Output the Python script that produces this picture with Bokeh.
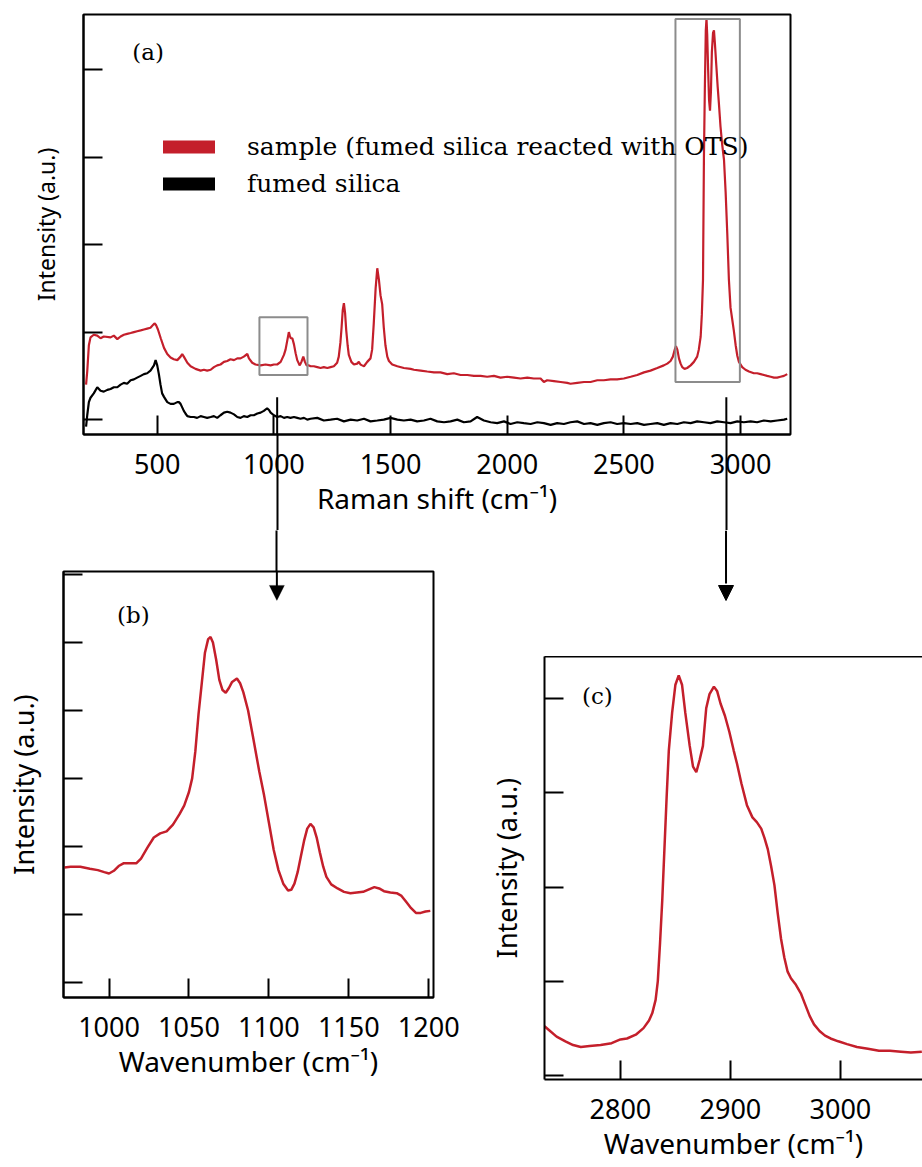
from bokeh.plotting import figure
from bokeh.models import (Range1d, FixedTicker, LinearAxis, Legend, LegendItem,
                          Label, BoxAnnotation, PolyAnnotation)
from bokeh.layouts import column, row
from bokeh.embed import file_html
from bokeh.resources import INLINE

RED = "#c41f2b"
BLACK = "#000000"
GREY = "#8c8c8c"
SANS = "Noto Sans"
SERIF = "DejaVu Serif"
NAN = float("nan")

# ---------------- panel (a): full Raman spectra ----------------
sample_x = [
    195, 200, 207, 214, 228, 243, 257, 271, 300, 314,
    329, 343, 357, 371, 386, 400, 414, 429, 443, 457,
    471, 488, 495, 503, 515, 529, 543, 557, 571, 586,
    600, 607, 614, 629, 643, 664, 686, 700, 714, 729,
    743, 757, 771, 786, 800, 814, 829, 843, 857, 871,
    886, 893, 907, 921, 943, 964, 986, 1000, 1014, 1029,
    1043, 1050, 1057, 1064, 1068, 1072, 1079, 1086, 1093, 1100,
    1107, 1111, 1118, 1126, 1133, 1140, 1150, 1157, 1171, 1186,
    1200, 1214, 1229, 1243, 1257, 1271, 1278, 1285, 1290, 1295,
    1300, 1305, 1310, 1316, 1321, 1332, 1343, 1357, 1364, 1371,
    1378, 1386, 1400, 1407, 1414, 1421, 1428, 1436, 1443, 1450,
    1457, 1464, 1471, 1478, 1486, 1493, 1507, 1529, 1557, 1586,
    1600, 1629, 1657, 1686, 1714, 1743, 1771, 1800, 1829, 1857,
    1886, 1914, 1943, 1971, 2000, 2029, 2057, 2086, 2114, 2143,
    2157, 2171, 2200, 2229, 2257, 2271, 2300, 2329, 2357, 2386,
    2414, 2443, 2471, 2500, 2529, 2557, 2586, 2614, 2643, 2671,
    2686, 2700, 2710, 2718, 2723, 2729, 2736, 2743, 2750, 2760,
    2771, 2786, 2800, 2814, 2821, 2829, 2834, 2839, 2843, 2847,
    2851, 2854, 2857, 2861, 2865, 2869, 2873, 2877, 2882, 2886,
    2890, 2896, 2902, 2907, 2914, 2921, 2929, 2936, 2943, 2950,
    2957, 2964, 2971, 2979, 2986, 2993, 3007, 3021, 3036, 3057,
    3071, 3086, 3100, 3114, 3129, 3143, 3157, 3171, 3186, 3200,
]
sample_y = [
    0.40, 0.55, 0.85, 0.94, 0.97, 0.96, 0.93, 0.95, 0.94, 0.96,
    0.92, 0.95, 0.97, 0.98, 0.99, 1.00, 1.01, 1.02, 1.03, 1.04,
    1.05, 1.10, 1.08, 1.03, 0.93, 0.82, 0.75, 0.71, 0.69, 0.68,
    0.72, 0.75, 0.72, 0.65, 0.61, 0.58, 0.56, 0.57, 0.56, 0.57,
    0.60, 0.62, 0.63, 0.66, 0.67, 0.69, 0.68, 0.70, 0.70, 0.72,
    0.75, 0.70, 0.65, 0.63, 0.62, 0.63, 0.62, 0.63, 0.63, 0.66,
    0.74, 0.80, 0.90, 1.00, 0.96, 0.93, 0.93, 0.86, 0.76, 0.68,
    0.64, 0.62, 0.66, 0.72, 0.66, 0.62, 0.62, 0.61, 0.61, 0.60,
    0.59, 0.60, 0.59, 0.60, 0.61, 0.65, 0.72, 0.88, 1.05, 1.25,
    1.33, 1.22, 1.02, 0.85, 0.74, 0.66, 0.63, 0.64, 0.66, 0.63,
    0.62, 0.61, 0.66, 0.68, 0.70, 0.80, 1.10, 1.50, 1.73, 1.60,
    1.42, 1.32, 1.05, 0.85, 0.72, 0.67, 0.63, 0.61, 0.59, 0.58,
    0.57, 0.56, 0.55, 0.54, 0.54, 0.52, 0.53, 0.51, 0.51, 0.50,
    0.50, 0.49, 0.50, 0.48, 0.49, 0.48, 0.47, 0.48, 0.47, 0.47,
    0.43, 0.45, 0.44, 0.43, 0.42, 0.41, 0.42, 0.43, 0.43, 0.45,
    0.45, 0.46, 0.46, 0.47, 0.49, 0.51, 0.54, 0.56, 0.59, 0.62,
    0.64, 0.67, 0.72, 0.80, 0.84, 0.80, 0.70, 0.64, 0.60, 0.58,
    0.59, 0.62, 0.66, 0.72, 0.80, 0.95, 1.20, 1.60, 3.00, 3.80,
    4.45, 4.58, 4.40, 4.00, 3.65, 3.53, 3.75, 4.20, 4.42, 4.45,
    4.30, 4.05, 3.80, 3.62, 3.35, 3.15, 2.97, 2.60, 2.13, 1.60,
    1.28, 1.15, 1.02, 0.85, 0.73, 0.66, 0.60, 0.57, 0.55, 0.53,
    0.53, 0.52, 0.51, 0.50, 0.49, 0.48, 0.48, 0.49, 0.50, 0.52,
]
silica_x = [
    195, 200, 207, 214, 228, 243, 257, 271, 286, 300,
    314, 329, 343, 357, 371, 386, 400, 414, 429, 443,
    457, 471, 486, 493, 500, 507, 514, 521, 529, 543,
    557, 571, 586, 593, 600, 607, 614, 621, 629, 643,
    657, 671, 686, 700, 714, 729, 743, 757, 771, 786,
    800, 814, 829, 843, 857, 871, 886, 900, 914, 929,
    943, 957, 971, 979, 986, 1000, 1014, 1029, 1043, 1057,
    1071, 1086, 1100, 1114, 1129, 1143,
    1157, 1186, 1214, 1243, 1271, 1300, 1329, 1357, 1386, 1414,
    1443, 1471, 1500, 1529, 1557, 1586, 1614, 1643, 1671, 1700,
    1729, 1757, 1786, 1814, 1843, 1871, 1900, 1929, 1957, 1986,
    2014, 2043, 2071, 2100, 2129, 2157, 2186, 2214, 2243, 2271,
    2300, 2329, 2357, 2386, 2414, 2443, 2471, 2500, 2529, 2557,
    2586, 2614, 2643, 2671, 2700, 2729, 2757, 2786, 2814, 2843,
    2871, 2900, 2929, 2957, 2986, 3014, 3043, 3071, 3100, 3129,
    3157, 3186, 3200,
]
silica_y = [
    -0.08, 0.05, 0.20, 0.25, 0.30, 0.37, 0.33, 0.32, 0.34, 0.35,
    0.37, 0.37, 0.40, 0.42, 0.41, 0.45, 0.46, 0.48, 0.50, 0.52,
    0.53, 0.56, 0.62, 0.68, 0.62, 0.52, 0.40, 0.30, 0.26, 0.20,
    0.18, 0.18, 0.20, 0.20, 0.18, 0.14, 0.10, 0.07, 0.04, 0.03,
    0.03, 0.02, 0.04, 0.03, 0.02, 0.03, 0.04, 0.02, 0.05, 0.08,
    0.09, 0.08, 0.06, 0.03, 0.02, 0.04, 0.03, 0.05, 0.05, 0.07,
    0.08, 0.10, 0.13, 0.11, 0.08, 0.05, 0.03, 0.04, 0.02, 0.03,
    0.02, 0.03, 0.02, 0.01, 0.02, 0.00,
    0.01, 0.02, -0.01, 0.00, 0.01, -0.02, 0.00, -0.01, 0.01, -0.02,
    -0.01, 0.00, 0.02, 0.00, -0.01, 0.00, -0.02, -0.01, 0.01, -0.02,
    -0.03, -0.02, 0.00, -0.03, -0.02, 0.03, -0.01, -0.03, -0.04, -0.02,
    -0.05, -0.03, -0.04, -0.05, -0.03, -0.04, -0.06, -0.04, -0.05, -0.03,
    -0.02, -0.05, -0.04, -0.06, -0.04, -0.03, -0.05, -0.04, -0.05, -0.04,
    -0.06, -0.05, -0.04, -0.06, -0.04, -0.05, -0.03, -0.04, -0.02, -0.03,
    -0.04, -0.02, -0.03, -0.04, -0.02, -0.03, -0.02, -0.03, -0.01, -0.02,
    -0.01, 0.00, 0.01,
]
assert len(sample_x) == len(sample_y)
assert len(silica_x) == len(silica_y)

a_xticks = [500, 1000, 1500, 2000, 2500, 3000]
a_yticks = [0, 1, 2, 3, 4]
# zoom boxes drawn on (a): [left, right, bottom, top]
box_b = [938, 1144, 0.51, 1.17]
box_c = [2721, 2997, 0.43, 4.58]

# ---------------- panel (b): 970-1200 cm-1 ----------------
b_x = [972, 976, 982, 988, 993, 997, 1000, 1003, 1006, 1009,
       1013, 1017, 1020, 1024, 1028, 1032, 1036, 1040, 1044, 1047,
       1050, 1052, 1054, 1056, 1058, 1060, 1062, 1063.5, 1065, 1067,
       1069, 1071, 1073, 1075, 1077, 1080, 1082, 1084, 1087, 1090,
       1094, 1097, 1100, 1103, 1106, 1109, 1112, 1114, 1116, 1118,
       1120, 1122, 1124, 1126, 1128, 1130, 1132, 1134, 1136, 1139,
       1143, 1147, 1151, 1155, 1159, 1163, 1166, 1169, 1172, 1176,
       1180, 1183, 1186, 1189, 1192, 1195, 1198, 1201]
b_y = [1.69, 1.70, 1.70, 1.67, 1.65, 1.62, 1.60, 1.64, 1.71, 1.75,
       1.75, 1.75, 1.82, 1.98, 2.13, 2.19, 2.22, 2.32, 2.47, 2.60,
       2.80, 3.00, 3.40, 3.95, 4.40, 4.85, 5.05, 5.08, 5.00, 4.75,
       4.45, 4.30, 4.26, 4.33, 4.42, 4.47, 4.40, 4.27, 4.00, 3.62,
       3.10, 2.75, 2.35, 1.95, 1.65, 1.45, 1.35, 1.36, 1.45, 1.62,
       1.85, 2.08, 2.26, 2.33, 2.28, 2.12, 1.90, 1.70, 1.55, 1.44,
       1.38, 1.33, 1.31, 1.32, 1.33, 1.37, 1.40, 1.38, 1.34, 1.32,
       1.31, 1.27, 1.18, 1.09, 1.02, 1.02, 1.04, 1.05]
assert len(b_x) == len(b_y)
b_xticks = [1000, 1050, 1100, 1150, 1200]
b_yticks = [0, 1, 2, 3, 4, 5, 6]

# ---------------- panel (c): 2730-3075 cm-1 ----------------
c_x = [2731, 2735, 2742, 2750, 2757, 2764, 2772, 2782, 2792, 2800,
       2806, 2814, 2821, 2826, 2829, 2832, 2834, 2836, 2838, 2840,
       2842, 2844, 2847, 2850, 2853, 2856, 2859, 2863, 2866, 2869,
       2872, 2875, 2878, 2881, 2885, 2888, 2891, 2895, 2899, 2903,
       2906, 2910, 2915, 2920, 2924, 2928, 2931, 2934, 2937, 2940,
       2943, 2946, 2949, 2952, 2955, 2959, 2964, 2968, 2972, 2976,
       2981, 2986, 2991, 2998, 3006, 3015, 3025, 3035, 3045, 3055,
       3064, 3074]
c_y = [0.52, 0.48, 0.41, 0.36, 0.32, 0.30, 0.31, 0.32, 0.34, 0.38,
       0.39, 0.43, 0.50, 0.58, 0.66, 0.80, 1.00, 1.40, 1.85, 2.40,
       2.95, 3.45, 3.85, 4.15, 4.25, 4.15, 3.85, 3.50, 3.28, 3.22,
       3.35, 3.50, 3.90, 4.05, 4.13, 4.08, 3.95, 3.82, 3.65, 3.45,
       3.31, 3.10, 2.87, 2.74, 2.69, 2.62, 2.52, 2.40, 2.22, 2.02,
       1.72, 1.45, 1.25, 1.10, 1.03, 0.97, 0.87, 0.75, 0.63, 0.54,
       0.47, 0.42, 0.39, 0.36, 0.33, 0.30, 0.28, 0.26, 0.26, 0.25,
       0.24, 0.25]
assert len(c_x) == len(c_y)
c_xticks = [2800, 2900, 3000]
c_yticks = [0, 1, 2, 3, 4]

# arrows linking (a) to (b) and (c)
arrow_a_x = [1014, 2939]          # positions on (a)
arrow_a_start = 0.255             # where the shafts leave (a)
arrow_b = (1105, 5.62)            # (x, tip) on (b)
arrow_c = (2896, 56, 71)          # (x, tip, head base) in px above frame (c)


def style_axes(xa, ya, xticks, yticks, xlabel, ylabel, ylabel_size, ylabel_standoff):
    xa.ticker = FixedTicker(ticks=xticks)
    ya.ticker = FixedTicker(ticks=yticks)
    for ax in (xa, ya):
        ax.axis_line_color = "black"
        ax.axis_line_width = 2
        ax.major_tick_line_color = "black"
        ax.major_tick_line_width = 2
        ax.major_tick_in = 19
        ax.major_tick_out = 0
        ax.minor_tick_line_color = None
        ax.axis_label_text_font = SANS
        ax.axis_label_text_font_style = "normal"
        ax.axis_label_text_color = "black"
        ax.major_label_text_font = SANS
        ax.major_label_text_color = "black"
    xa.axis_label = xlabel
    xa.axis_label_text_font_size = "28px"
    xa.major_label_text_font_size = "27px"
    xa.major_label_standoff = 19
    xa.axis_label_standoff = 2
    ya.axis_label = ylabel
    ya.axis_label_text_font_size = ylabel_size
    # the reference shows no numbers on the intensity axes
    ya.major_label_text_font_size = "0px"
    ya.major_label_text_color = None
    ya.major_label_standoff = 0
    ya.axis_label_standoff = ylabel_standoff


def plain(p):
    p.grid.visible = False
    p.background_fill_color = "white"
    p.border_fill_color = "white"


def shaft_axis(ticks, reach):
    # a label-less axis whose only job is to draw the arrow shafts across the border
    return LinearAxis(ticker=FixedTicker(ticks=ticks), axis_line_color=None,
                      major_tick_in=-reach, major_tick_out=0,
                      major_tick_line_color="black", major_tick_line_width=2,
                      minor_tick_line_color=None, major_label_standoff=0,
                      major_label_text_font_size="0px", major_label_text_color=None)


def shaft_box(x, y_top, y_bottom):
    return BoxAnnotation(left=x, right=x, top=y_top, bottom=y_bottom,
                         fill_alpha=0, line_color="black", line_width=2, line_alpha=1)


# ---------- figure (a)
a_xr, a_yr = (184, 3214), (-0.17, 4.63)
pa = figure(width=922, height=530, x_range=Range1d(*a_xr), y_range=Range1d(*a_yr),
            output_backend="svg", toolbar_location=None, x_axis_location=None,
            min_border_left=83, min_border_right=132, min_border_top=14, min_border_bottom=96)
plain(pa)
pa.add_layout(shaft_axis(arrow_a_x, 96), "below")
xa_a = LinearAxis()
pa.add_layout(xa_a, "below")
style_axes(xa_a, pa.yaxis[0], a_xticks, a_yticks, "Raman shift (cm⁻¹)", "Intensity (a.u.)", "23px", 22)
pa.outline_line_color = "black"
pa.outline_line_width = 2
pa.outline_line_alpha = 1

pa.line(silica_x, silica_y, line_color=BLACK, line_width=2.2)
pa.line(sample_x, sample_y, line_color=RED, line_width=2.2)

for bx in (box_b, box_c):
    pa.add_layout(BoxAnnotation(left=bx[0], right=bx[1], bottom=bx[2], top=bx[3],
                                fill_alpha=0, line_color=GREY, line_width=2, line_alpha=1))
for ax_ in arrow_a_x:
    pa.add_layout(shaft_box(ax_, arrow_a_start, a_yr[0] - 1))

leg_red = pa.line([NAN], [NAN], line_color=RED, line_width=13, line_cap="round")
leg_blk = pa.line([NAN], [NAN], line_color=BLACK, line_width=13, line_cap="round")
legend = Legend(items=[LegendItem(label="sample (fumed silica reacted with OTS)", renderers=[leg_red]),
                       LegendItem(label="fumed silica", renderers=[leg_blk])],
                location=(80, 232), orientation="vertical",
                glyph_width=52, glyph_height=37, label_height=37, label_standoff=32,
                spacing=0, padding=0, margin=0,
                border_line_color=None, background_fill_alpha=0,
                label_text_font=SERIF, label_text_font_size="25px", label_text_color="black")
pa.add_layout(legend)

pa.add_layout(Label(x=393, y=4.20, text="(a)", text_font=SERIF, text_font_size="23px",
                    text_baseline="middle", text_align="left", text_color="black"))

# ---------- figure (b)
b_xr, b_yr = (971.5, 1203), (-0.225, 6.045)
pb = figure(width=470, height=637, x_range=Range1d(*b_xr), y_range=Range1d(*b_yr),
            output_backend="svg", toolbar_location=None,
            min_border_left=63, min_border_right=37, min_border_top=41, min_border_bottom=170)
pb.frame_align = False
plain(pb)
style_axes(pb.xaxis[0], pb.yaxis[0], b_xticks, b_yticks, "Wavenumber (cm⁻¹)", "Intensity (a.u.)", "27px", 22)
pb.outline_line_color = "black"
pb.outline_line_width = 2
pb.outline_line_alpha = 1
pb.add_layout(shaft_axis([arrow_b[0]], 41), "above")
pb.line(b_x, b_y, line_color=RED, line_width=2.5)
pb.add_layout(Label(x=1005, y=5.40, text="(b)", text_font=SERIF, text_font_size="23px",
                    text_baseline="middle", text_align="left", text_color="black"))
pb.add_layout(shaft_box(arrow_b[0], b_yr[1] + 1, arrow_b[1] + 0.1))
b_dx = 7.5 * (b_xr[1] - b_xr[0]) / 370
b_dy = 15 * (b_yr[1] - b_yr[0]) / 426
pb.add_layout(PolyAnnotation(xs=[arrow_b[0] - b_dx, arrow_b[0] + b_dx, arrow_b[0]],
                             ys=[arrow_b[1] + b_dy, arrow_b[1] + b_dy, arrow_b[1]],
                             fill_color="black", fill_alpha=1, line_color="black", line_width=1))

# ---------- figure (c) and the strip above it holding the arrow
c_xr, c_yr = (2731, 3074.6), (-0.046, 4.45)
c_xrange = Range1d(*c_xr)
pc = figure(width=452, height=511, x_range=c_xrange, y_range=Range1d(*c_yr),
            output_backend="svg", toolbar_location=None,
            min_border_left=74, min_border_right=0, min_border_top=0, min_border_bottom=88)
pc.frame_align = False
plain(pc)
style_axes(pc.xaxis[0], pc.yaxis[0], c_xticks, c_yticks, "Wavenumber (cm⁻¹)", "Intensity (a.u.)", "27px", 20)
pc.outline_line_color = None
top_axis = LinearAxis(ticker=FixedTicker(ticks=[]), axis_line_color="black", axis_line_width=2,
                      major_tick_line_color=None, minor_tick_line_color=None, major_tick_out=0,
                      major_label_standoff=0,
                      major_label_text_font_size="0px", major_label_text_color=None)
pc.add_layout(top_axis, "above")
pc.line(c_x, c_y, line_color=RED, line_width=2.5)
pc.add_layout(Label(x=2765, y=4.03, text="(c)", text_font=SERIF, text_font_size="23px",
                    text_baseline="middle", text_align="left", text_color="black"))

pct = figure(width=452, height=126, x_range=c_xrange, y_range=Range1d(0, 126),
             output_backend="svg", toolbar_location=None,
             x_axis_location=None, y_axis_location=None,
             min_border_left=74, min_border_right=0, min_border_top=0, min_border_bottom=0)
pct.frame_align = False
plain(pct)
pct.outline_line_color = None
c_dx = 7.5 * (c_xr[1] - c_xr[0]) / 378
pct.segment(x0=[arrow_c[0]], y0=[126], x1=[arrow_c[0]], y1=[arrow_c[2] + 2],
            line_color="black", line_width=2)
pct.patch(x=[arrow_c[0] - c_dx, arrow_c[0] + c_dx, arrow_c[0]],
          y=[arrow_c[2], arrow_c[2], arrow_c[1]],
          fill_color="black", line_color="black", line_width=1)

layout = column(pa, row(pb, column(pct, pc)))
open("out.html", "w").write(file_html(layout, INLINE))
